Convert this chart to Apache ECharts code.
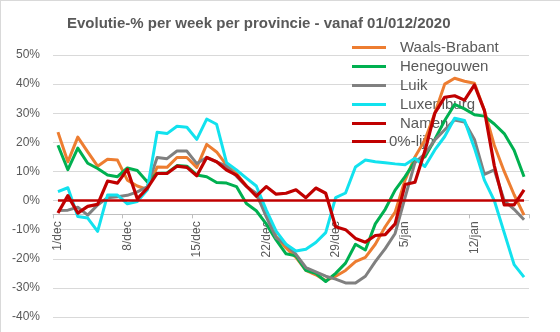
<!DOCTYPE html>
<html>
<head>
<meta charset="utf-8">
<script src="https://cdn.jsdelivr.net/npm/echarts@6/dist/echarts.min.js"></script>
<style>
html,body{margin:0;padding:0;background:#fff;}
#c{position:absolute;left:0;top:0;width:560px;height:332px;}
#b{position:absolute;left:0;top:0;width:560px;height:332px;box-sizing:border-box;border-top:1px solid #d9d9d9;border-left:1px solid #d9d9d9;pointer-events:none;}
</style>
</head>
<body>
<div id="c"></div>
<div id="b"></div>
<script>
const categories = ["1/dec","2/dec","3/dec","4/dec","5/dec","6/dec","7/dec","8/dec","9/dec","10/dec",
"11/dec","12/dec","13/dec","14/dec","15/dec","16/dec","17/dec","18/dec","19/dec","20/dec",
"21/dec","22/dec","23/dec","24/dec","25/dec","26/dec","27/dec","28/dec","29/dec","30/dec","31/dec",
"1/jan","2/jan","3/jan","4/jan","5/jan","6/jan","7/jan","8/jan","9/jan","10/jan",
"11/jan","12/jan","13/jan","14/jan","15/jan","16/jan","17/jan"];

const waalsBrabant = [23.5,13.3,21.8,16.7,11.8,14.2,13.9,7,5,3.8,11.5,11.4,14.8,14.8,11.4,19.3,16.7,12.2,9.3,5,1.9,-4.3,-12.3,-16.3,-19.5,-24,-25.5,-27.5,-26,-24,-21,-19.5,-15,-9,-4,7,15,20.8,30,40,42,41,40.3,31,19,10,2,-5];
const henegouwen = [19,10.6,18,12.8,11,8.8,8.2,11.2,10.3,6.5,9.3,9.5,12,11.8,8.8,8.2,6.2,6,4.8,-1,-3.5,-8,-13.5,-18.3,-19,-24,-25,-27.8,-25,-21.5,-15,-17,-8,-3,3.6,8.2,13.5,15,21,27.5,33,31.5,29.5,29,26.3,23,17.3,8.2];
const luik = [-3.4,-3.3,-2.3,-5,-1.5,1,1.3,1.8,3,4.7,14.8,14.4,17,17,12.7,14.8,13.3,11.8,8.4,4.8,2.5,-5.5,-12.8,-15.1,-18.5,-23,-24.5,-26,-27,-28.3,-28.3,-26,-21,-16.5,-11.3,1,13,16,20.8,24.3,27.7,27,21,9,10.5,0,-3,-6.6];
const luxemburg = [3.1,4.4,-5.5,-6,-10.6,1.9,1.9,-1.1,-0.3,3.6,23.5,23,25.5,25.2,21,28,26.2,13,10.5,7.7,5,-3.2,-10.5,-15,-17.3,-16.7,-14.4,-11,1,2.6,11.5,13.9,13.3,13,12.6,12.3,14.5,11.7,17.4,22,28.3,27.5,18,7,0,-11,-22,-26.3];
const namen = [-4.3,1.7,-4.3,-2,-1.3,6.7,6,10.7,0.6,4.2,9.3,9.3,11.8,11.4,8.5,14.8,13.3,10.5,8.75,5,1.5,4.8,2.2,2.5,3.7,1,4.3,2.5,-9,-10,-13,-14.3,-12,-11.7,-8,5.5,6.3,17,30,35.5,36,34.5,39.7,31,12,-1.5,-1.5,3.7];
const nulLijn = [0,0,0,0,0,0,0,0,0,0,0,0,0,0,0,0,0,0,0,0,0,0,0,0,0,0,0,0,0,0,0,0,0,0,0,0,0,0,0,0,0,0,0,0,0,0,0,0];
const yTicks = {min:-40, max:50, interval:10};

const seriesDefs = [
  {name:'Waals-Brabant', data:waalsBrabant, color:'#ED7D31', w:3},
  {name:'Henegouwen', data:henegouwen, color:'#00B050', w:3},
  {name:'Luik', data:luik, color:'#808080', w:3},
  {name:'Luxemburg', data:luxemburg, color:'#12E2EE', w:3},
  {name:'Namen', data:namen, color:'#C00000', w:3.2},
  {name:'0%-lijn', data:nulLijn, color:'#C00000', w:2.5}
];

const font = 'Liberation Sans, Arial, sans-serif';
const chart = echarts.init(document.getElementById('c'), null, {renderer:'canvas'});
const grid = {left:53, right:31, top:55, bottom:15, containLabel:false};
chart.setOption({
  animation:false,
  backgroundColor:'#fff',
  title:{
    text:'Evolutie-% per week per provincie - vanaf 01/012/2020',
    left:67, top:16, padding:0,
    textStyle:{fontSize:15, fontWeight:'bold', color:'#595959', fontFamily:font}
  },
  legend:[{
    orient:'vertical', left:352, top:40, padding:0, itemGap:4,
    itemWidth:34, itemHeight:3, icon:'rect', z:1,
    data:['Waals-Brabant','Henegouwen','Luik','Luxemburg','Namen'],
    textStyle:{fontSize:15, color:'#595959', fontFamily:font, padding:[0,0,0,9], lineHeight:15}
  },{
    orient:'vertical', left:352, top:134, padding:0,
    itemWidth:34, itemHeight:3, icon:'rect', z:1,
    data:['0%-lijn'],
    textStyle:{fontSize:15, color:'#595959', fontFamily:font, padding:[0,0,0,-2], lineHeight:15}
  }],
  grid:grid,
  xAxis:{
    type:'category', data:categories, boundaryGap:true, position:'bottom', offset:0,
    axisLine:{onZero:false, lineStyle:{color:'#bfbfbf'}},
    axisTick:{show:true, interval:6, length:4, lineStyle:{color:'#bfbfbf'}},
    axisLabel:{interval:6, rotate:90, fontSize:12, color:'#595959', fontFamily:font, margin:7},
    splitLine:{show:false}
  },
  yAxis:{
    type:'value', min:yTicks.min, max:yTicks.max, interval:yTicks.interval,
    axisLine:{show:false}, axisTick:{show:false},
    axisLabel:{formatter:'{value}%', fontSize:12, color:'#595959', fontFamily:font, margin:13},
    splitLine:{lineStyle:{color:'#d9d9d9', width:1}}
  },
  series: seriesDefs.map((s,i)=>({
    name:s.name, type:'line', data:s.data, symbol:'none', smooth:false,
    z:2+i, itemStyle:{color:s.color},
    lineStyle:{color:s.color, width:s.w, join:'round'}
  }))
});
// move the category axis onto the 0% line
const yZero = chart.convertToPixel({yAxisIndex:0}, 0);
const yBottom = chart.convertToPixel({yAxisIndex:0}, yTicks.min);
chart.setOption({xAxis:{offset:-(yBottom - yZero)}});
</script>
</body>
</html>
